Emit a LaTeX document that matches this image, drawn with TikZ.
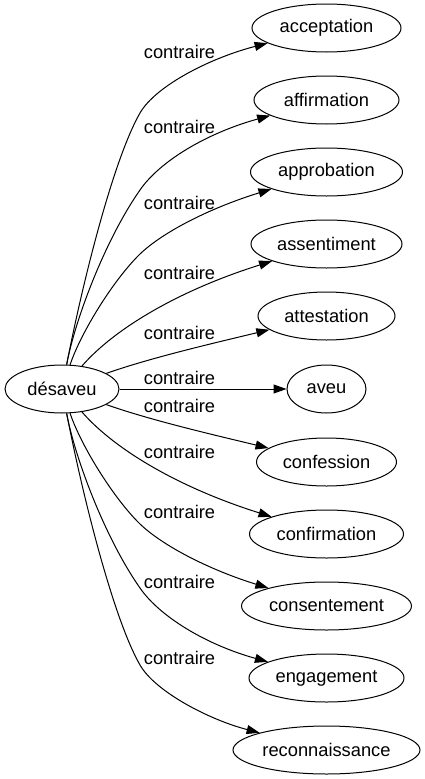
\documentclass[tikz,border=0pt]{standalone}
\usepackage{fontspec}
\setmainfont{Liberation Sans}
\usetikzlibrary{arrows.meta,shapes.geometric}
\begin{document}
\begin{tikzpicture}[x=1pt,y=-1pt,
  nd/.style={draw, ellipse, inner sep=0pt, minimum height=48pt, line width=1pt, font=\fontsize{18.3}{20}\selectfont},
  lbl/.style={inner sep=0pt, font=\fontsize{18.3}{20}\selectfont},
  rel/.style={draw, line width=1pt, -{Triangle[length=13pt,width=9pt]}}]
\useasboundingbox (0,0) rectangle (424,779);
\node[nd, minimum width=114pt] (d) at (62,389) {désaveu};
\node[nd, minimum width=149pt] (t1) at (326.5,28) {acceptation};
\node[nd, minimum width=145pt] (t2) at (326.5,100) {affirmation};
\node[nd, minimum width=152pt] (t3) at (326.5,172) {approbation};
\node[nd, minimum width=151pt] (t4) at (326.5,244) {assentiment};
\node[nd, minimum width=137pt] (t5) at (326.5,316) {attestation};
\node[nd, minimum width=79pt] (t6) at (326.5,389) {aveu};
\node[nd, minimum width=140pt] (t7) at (326.5,462) {confession};
\node[nd, minimum width=154pt] (t8) at (326.5,534) {confirmation};
\node[nd, minimum width=170pt] (t9) at (326.5,606) {consentement};
\node[nd, minimum width=155pt] (t10) at (326.5,678) {engagement};
\node[nd, minimum width=187pt] (t11) at (326.5,750) {reconnaissance};
% edges
\path[rel] (d) .. controls (82,285) and (113,160) .. (140,113) .. controls (155.5,86) and (210,58) .. (t1);
\path[rel] (d) .. controls (75,320) and (105,240) .. (140,190) .. controls (160,161) and (207,133) .. (t2);
\path[rel] (d) .. controls (80,335) and (110,285) .. (137,257) .. controls (160,233) and (210,208) .. (t3);
\path[rel] (d) .. controls (115,328) and (180,290) .. (t4);
\path[rel] (d) .. controls (150,358) and (210,344) .. (t5);
\path[rel] (d) -- (t6);
\path[rel] (d) .. controls (150,420) and (210,434) .. (t7);
\path[rel] (d) .. controls (115,450) and (180,488) .. (t8);
\path[rel] (d) .. controls (80,443) and (110,493) .. (137,521) .. controls (160,545) and (210,570) .. (t9);
\path[rel] (d) .. controls (75,458) and (105,538) .. (140,588) .. controls (160,617) and (207,645) .. (t10);
\path[rel] (d) .. controls (82,493) and (113,618) .. (140,665) .. controls (155.5,692) and (210,720) .. (t11);
% labels
\node[lbl] (l1) at (179.5,52) {contraire};
\node[lbl] (l2) at (179.5,127) {contraire};
\node[lbl] (l3) at (179.5,203) {contraire};
\node[lbl] (l4) at (179.5,273) {contraire};
\node[lbl] (l5) at (179.5,333) {contraire};
\node[lbl] (l6) at (179.5,378) {contraire};
\node[lbl] (l7) at (179.5,406) {contraire};
\node[lbl] (l8) at (179.5,452) {contraire};
\node[lbl] (l9) at (179.5,512) {contraire};
\node[lbl] (l10) at (179.5,582) {contraire};
\node[lbl] (l11) at (179.5,658) {contraire};
\end{tikzpicture}
\end{document}
